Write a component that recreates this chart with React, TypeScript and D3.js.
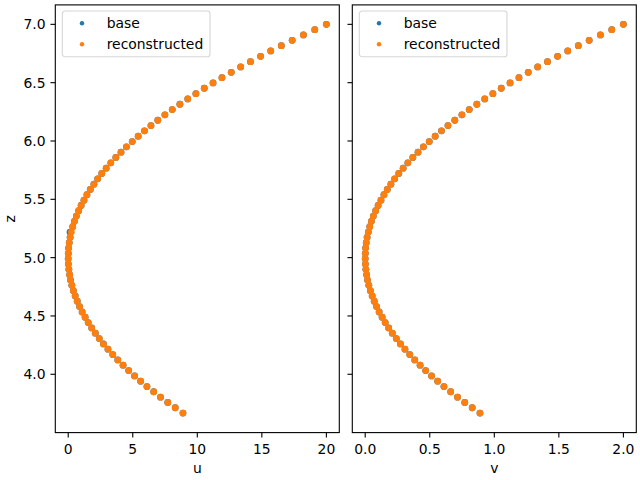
import React from "react";
import * as d3 from "d3";

const zVals = [7.000, 6.954, 6.909, 6.863, 6.817, 6.772, 6.726, 6.680, 6.635, 6.589, 6.543, 6.498, 6.452, 6.406, 6.361, 6.315, 6.269, 6.224, 6.178, 6.132, 6.087, 6.041, 5.995, 5.950, 5.904, 5.859, 5.813, 5.767, 5.722, 5.676, 5.630, 5.585, 5.539, 5.493, 5.448, 5.402, 5.356, 5.311, 5.265, 5.219, 5.174, 5.128, 5.082, 5.037, 4.991, 4.945, 4.900, 4.854, 4.808, 4.763, 4.717, 4.671, 4.626, 4.580, 4.534, 4.489, 4.443, 4.397, 4.352, 4.306, 4.260, 4.215, 4.169, 4.123, 4.078, 4.032, 3.986, 3.941, 3.895, 3.850, 3.804, 3.758, 3.713, 3.667];

const baseU = [20.00, 19.10, 18.22, 17.35, 16.51, 15.69, 14.90, 14.12, 13.36, 12.63, 11.91, 11.22, 10.54, 9.89, 9.26, 8.65, 8.06, 7.49, 6.94, 6.41, 5.91, 5.42, 4.96, 4.51, 4.09, 3.69, 3.30, 2.94, 2.60, 2.28, 1.99, 1.71, 1.45, 1.22, 1.00, 0.81, 0.63, 0.48, 0.35, 0.14, 0.15, 0.08, 0.03, 0.01, 0.00, 0.01, 0.05, 0.11, 0.18, 0.28, 0.40, 0.54, 0.70, 0.88, 1.08, 1.31, 1.55, 1.82, 2.10, 2.41, 2.73, 3.08, 3.45, 3.84, 4.25, 4.68, 5.14, 5.61, 6.10, 6.62, 7.15, 7.71, 8.29, 8.89];

const reconU = [20.00, 19.10, 18.22, 17.35, 16.51, 15.69, 14.90, 14.12, 13.36, 12.63, 11.91, 11.22, 10.54, 9.89, 9.26, 8.65, 8.06, 7.49, 6.94, 6.41, 5.91, 5.42, 4.96, 4.51, 4.09, 3.69, 3.30, 2.94, 2.60, 2.28, 1.99, 1.71, 1.45, 1.22, 1.00, 0.81, 0.63, 0.48, 0.35, 0.24, 0.15, 0.08, 0.03, 0.01, 0.00, 0.01, 0.05, 0.11, 0.18, 0.28, 0.40, 0.54, 0.70, 0.88, 1.08, 1.31, 1.55, 1.82, 2.10, 2.41, 2.73, 3.08, 3.45, 3.84, 4.25, 4.68, 5.14, 5.61, 6.10, 6.62, 7.15, 7.71, 8.29, 8.89];

const baseV = [2.000, 1.910, 1.822, 1.735, 1.651, 1.569, 1.490, 1.412, 1.336, 1.263, 1.191, 1.122, 1.054, 0.989, 0.926, 0.865, 0.806, 0.749, 0.694, 0.641, 0.591, 0.542, 0.496, 0.451, 0.409, 0.369, 0.330, 0.294, 0.260, 0.228, 0.199, 0.171, 0.145, 0.122, 0.100, 0.081, 0.063, 0.048, 0.035, 0.024, 0.015, 0.008, 0.003, 0.001, 0.000, 0.0015, 0.005, 0.011, 0.018, 0.028, 0.040, 0.054, 0.070, 0.088, 0.108, 0.131, 0.155, 0.182, 0.210, 0.241, 0.273, 0.308, 0.345, 0.384, 0.425, 0.468, 0.514, 0.561, 0.610, 0.662, 0.715, 0.771, 0.829, 0.889];

const reconV = [2.000, 1.910, 1.822, 1.735, 1.651, 1.569, 1.490, 1.412, 1.336, 1.263, 1.191, 1.122, 1.054, 0.989, 0.926, 0.865, 0.806, 0.749, 0.694, 0.641, 0.591, 0.542, 0.496, 0.451, 0.409, 0.369, 0.330, 0.294, 0.260, 0.228, 0.199, 0.171, 0.145, 0.122, 0.100, 0.081, 0.063, 0.048, 0.035, 0.024, 0.015, 0.008, 0.003, 0.001, 0.000, 0.0015, 0.005, 0.011, 0.018, 0.028, 0.040, 0.054, 0.070, 0.088, 0.108, 0.131, 0.155, 0.182, 0.210, 0.241, 0.273, 0.308, 0.345, 0.384, 0.425, 0.468, 0.514, 0.561, 0.610, 0.662, 0.715, 0.771, 0.829, 0.889];

const zTicks = [4.0, 4.5, 5.0, 5.5, 6.0, 6.5, 7.0];
const uTicks = [0, 5, 10, 15, 20];
const vTicks = [0.0, 0.5, 1.0, 1.5, 2.0];
const seriesNames = ["base", "reconstructed"];

const BLUE = "#1f77b4";
const ORANGE = "#ff7f0e";
const FONT = "DejaVu Sans, sans-serif";
const FS = 13.9;
const TICK = 4.86;

const top = 4.9;
const bottom = 432.6;

const yScale = d3.scaleLinear().domain([3.5, 7.1667]).range([bottom, top]);

type PanelProps = {
  left: number;
  right: number;
  xDomain: [number, number];
  xTicks: number[];
  xFmt: (d: number) => string;
  xLabel: string;
  bx: number[];
  rx: number[];
  showYLabels: boolean;
};

function Panel({ left, right, xDomain, xTicks, xFmt, xLabel, bx, rx, showYLabels }: PanelProps) {
  const x = d3.scaleLinear().domain(xDomain).range([left, right]);
  const r = 3.4;
  return (
    <g>
      {zVals.map((z, i) => (
        <circle key={"b" + i} cx={x(bx[i])} cy={yScale(z)} r={r} fill={BLUE} />
      ))}
      {zVals.map((z, i) => (
        <circle key={"r" + i} cx={x(rx[i])} cy={yScale(z)} r={r} fill={ORANGE} />
      ))}
      <rect x={left} y={top} width={right - left} height={bottom - top} fill="none" stroke="#000" strokeWidth={1.1} />
      {xTicks.map((t) => (
        <g key={"xt" + t}>
          <line x1={x(t)} x2={x(t)} y1={bottom} y2={bottom + TICK} stroke="#000" strokeWidth={1.1} />
          <text x={x(t)} y={454} textAnchor="middle" fontFamily={FONT} fontSize={FS} fill="#000">
            {xFmt(t)}
          </text>
        </g>
      ))}
      {zTicks.map((t) => (
        <g key={"yt" + t}>
          <line x1={left - TICK} x2={left} y1={yScale(t)} y2={yScale(t)} stroke="#000" strokeWidth={1.1} />
          {showYLabels && (
            <text x={left - TICK - 4.9} y={yScale(t)} dy="0.36em" textAnchor="end" fontFamily={FONT} fontSize={FS} fill="#000">
              {t.toFixed(1)}
            </text>
          )}
        </g>
      ))}
      <text x={(left + right) / 2} y={472.5} textAnchor="middle" fontFamily={FONT} fontSize={FS} fill="#000">
        {xLabel}
      </text>
      <g transform={`translate(${left + 7},11)`}>
        <rect x={0} y={0} width={147.7} height={45.7} rx={2.8} fill="#fff" fillOpacity={0.8} stroke="#d6d6d6" strokeWidth={1.1} />
        <circle cx={19.7} cy={12.3} r={2.2} fill={BLUE} />
        <text x={44.4} y={17.3} fontFamily={FONT} fontSize={FS} fill="#000">{seriesNames[0]}</text>
        <circle cx={19.7} cy={33.3} r={2.2} fill={ORANGE} />
        <text x={44.4} y={38.3} fontFamily={FONT} fontSize={FS} fill="#000">{seriesNames[1]}</text>
      </g>
    </g>
  );
}

export default function App() {
  return (
    <svg width={640} height={480} style={{ position: "absolute", left: 0, top: 0, background: "#fff" }}>
      <rect x={0} y={0} width={640} height={480} fill="#fff" />
      <Panel left={55.3} right={339.3} xDomain={[-1, 21]} xTicks={uTicks} xFmt={(d) => String(d)} xLabel="u" bx={baseU} rx={reconU} showYLabels={true} />
      <Panel left={352.3} right={636.3} xDomain={[-0.1, 2.1]} xTicks={vTicks} xFmt={(d) => d.toFixed(1)} xLabel="v" bx={baseV} rx={reconV} showYLabels={false} />
      <text transform={`translate(15,${(top + bottom) / 2}) rotate(-90)`} textAnchor="middle" fontFamily={FONT} fontSize={FS} fill="#000">
        z
      </text>
    </svg>
  );
}
